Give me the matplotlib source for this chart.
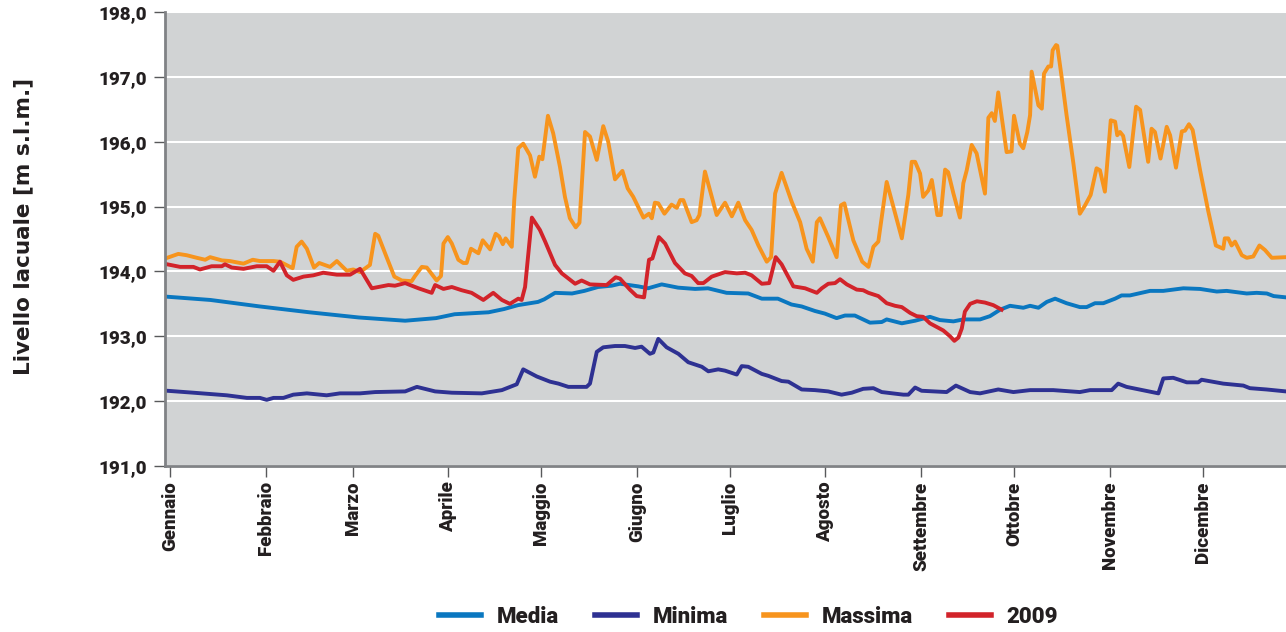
import matplotlib
matplotlib.use('Agg')
import matplotlib.pyplot as plt
from matplotlib.ticker import FuncFormatter

plt.rcParams['font.family'] = ['Roboto', 'DejaVu Sans']

# Day of year positions and lake levels
media_day = [0, 14, 30, 46, 62, 77, 87, 93, 104, 109, 113.5, 120, 122, 125.5, 131, 135, 139.4,
             143.8, 146.5, 152.4, 155.6, 160, 165.3, 170.8, 175, 181, 188, 192.4, 197.6, 202,
             205.3, 209.6, 212.8, 216.6, 219.3, 222.5, 227.4, 231.2, 232.8, 237.7, 242, 246.8,
             250, 254.4, 257.6, 263, 266.2, 269.5, 272.7, 277, 279.2, 281.9, 284.6, 287.3, 291,
             295.3, 297.5, 300.2, 302.9, 306.7, 308.8, 311.5, 318, 322.3, 328.8, 334.2, 339.6,
             342.8, 349.3, 352.5, 355.8, 358, 362]
media_val = [193.61, 193.56, 193.46, 193.37, 193.29, 193.24, 193.28, 193.34, 193.37, 193.42,
             193.48, 193.53, 193.57, 193.67, 193.66, 193.70, 193.76, 193.78, 193.81, 193.77,
             193.74, 193.80, 193.75, 193.73, 193.74, 193.67, 193.66, 193.58, 193.58, 193.49,
             193.46, 193.39, 193.35, 193.28, 193.32, 193.32, 193.21, 193.22, 193.26, 193.20,
             193.24, 193.30, 193.25, 193.23, 193.26, 193.26, 193.31, 193.41, 193.47, 193.44,
             193.47, 193.44, 193.53, 193.58, 193.51, 193.45, 193.45, 193.51, 193.51, 193.58,
             193.63, 193.63, 193.70, 193.70, 193.74, 193.73, 193.69, 193.70, 193.66, 193.67,
             193.66, 193.62, 193.60]

minima_day = [0, 8.5, 19.3, 25.8, 30, 32.2, 34.4, 37.6, 40.8, 45.2, 51.6, 55.9, 62.4, 67.3, 77,
              80.8, 86.7, 92.1, 101.8, 108.3, 113.1, 115.2, 119.6, 123.9, 126.6, 129.8, 135.7,
              136.8, 139, 141.1, 144.9, 148.1, 151.4, 153.5, 156.2, 157.3, 158.9, 161.6, 165.4,
              168.6, 173, 175.1, 178.3, 180.5, 184.3, 185.9, 188, 192.4, 194.5, 198.8, 201,
              205.3, 209.6, 213.9, 218.2, 221.5, 225.2, 228.5, 231.2, 238.2, 239.8, 242, 244.1,
              252.2, 255.2, 259.8, 263, 268.9, 273.8, 279.2, 286.7, 295.3, 298.6, 305.6, 307.7,
              310.4, 320.7, 322.3, 325.5, 329.9, 333.6, 334.7, 341.7, 348.2, 350.3, 355.7, 362]
minima_val = [192.16, 192.13, 192.09, 192.05, 192.05, 192.02, 192.05, 192.05, 192.10, 192.12,
              192.09, 192.12, 192.12, 192.14, 192.15, 192.22, 192.15, 192.13, 192.12, 192.17,
              192.26, 192.49, 192.38, 192.30, 192.27, 192.22, 192.22, 192.27, 192.76, 192.83,
              192.85, 192.85, 192.82, 192.84, 192.73, 192.75, 192.96, 192.83, 192.73, 192.60,
              192.53, 192.46, 192.49, 192.47, 192.41, 192.54, 192.53, 192.42, 192.39, 192.31,
              192.30, 192.18, 192.17, 192.15, 192.10, 192.13, 192.19, 192.20, 192.14, 192.10,
              192.10, 192.21, 192.16, 192.14, 192.24, 192.14, 192.12, 192.18, 192.14, 192.17,
              192.17, 192.14, 192.17, 192.17, 192.27, 192.22, 192.12, 192.35, 192.36, 192.29,
              192.29, 192.33, 192.27, 192.24, 192.20, 192.18, 192.15]

massima_day = [0, 3.6, 6.3, 9.6, 12.3, 13.9, 17.7, 20.3, 24.7, 27.7, 30, 34.4, 36.5, 40.6, 41.9,
               43.5, 45.2, 47.5, 49.2, 52.7, 54.9, 58.1, 60.2, 62.4, 65.6, 67.3, 68.3, 71, 73.5,
               75.9, 79.1, 80.2, 82.4, 84, 87.2, 88.6, 89.4, 90.8, 92.1, 94.2, 95.8, 96.9, 98.3,
               100.7, 102.1, 104.5, 106.3, 107.4, 108.6, 109.5, 111.5, 112.3, 113.6, 115.2,
               117.4, 119, 120.4, 121.4, 123.2, 124.9, 127.1, 128.7, 130.3, 132.2, 133.4, 135.2,
               136.8, 139, 141.1, 142.7, 144.9, 147.3, 149, 150.8, 154.1, 155.9, 156.8, 157.8,
               158.9, 160.9, 163.2, 164.9, 166, 167, 169.7, 171.3, 172.2, 174, 177.8, 180.5,
               182.7, 184.8, 187, 189.1, 191.3, 194, 195.4, 196.7, 198.8, 202.1, 204.8, 206.9,
               208.9, 210.2, 211.2, 213.9, 216.6, 218, 219.1, 222, 224.9, 226.9, 228.5, 230.1,
               232.8, 237.7, 239.8, 240.9, 242, 243.6, 244.6, 246.3, 247.4, 249.2, 250.3, 251.7,
               252.7, 254.4, 256.5, 257.6, 258.7, 260.3, 261.9, 264.6, 265.7, 266.8, 267.8,
               268.9, 271.6, 273.2, 274, 275.9, 277, 278.3, 279.2, 279.7, 281.9, 283, 283.7,
               285.1, 286, 286.5, 287.6, 288, 289.4, 291, 293.2, 295.3, 297, 298.8, 300.7,
               301.8, 303.4, 305.3, 306.7, 307.4, 308.3, 309.3, 311.3, 313.5, 314.8, 317.4,
               318.5, 319.6, 321.4, 323.4, 324.5, 326.4, 328.3, 329.3, 330.6, 331.8, 334.2,
               336.8, 339.3, 341.7, 342.2, 343.3, 344.4, 345.5, 347.7, 349.3, 351.4, 353.4,
               355.2, 357.4, 362]
massima_val = [194.21, 194.27, 194.25, 194.21, 194.18, 194.22, 194.17, 194.16, 194.12, 194.18,
               194.16, 194.16, 194.15, 194.05, 194.38, 194.46, 194.35, 194.06, 194.13, 194.07,
               194.16, 194.01, 194.03, 193.99, 194.10, 194.58, 194.55, 194.22, 193.92, 193.86,
               193.85, 193.93, 194.07, 194.06, 193.86, 193.93, 194.43, 194.53, 194.43, 194.18,
               194.13, 194.13, 194.35, 194.28, 194.48, 194.34, 194.58, 194.54, 194.42, 194.51,
               194.38, 195.10, 195.90, 195.97, 195.79, 195.46, 195.77, 195.73, 196.40, 196.13,
               195.61, 195.15, 194.82, 194.68, 194.75, 196.15, 196.08, 195.72, 196.24, 196.00,
               195.42, 195.55, 195.28, 195.15, 194.83, 194.89, 194.82, 195.06, 195.05, 194.89,
               195.03, 194.98, 195.10, 195.10, 194.76, 194.79, 194.87, 195.54, 194.87, 195.06,
               194.85, 195.06, 194.79, 194.64, 194.40, 194.15, 194.22, 195.20, 195.52, 195.07,
               194.76, 194.35, 194.15, 194.76, 194.82, 194.53, 194.22, 195.02, 195.05, 194.48,
               194.15, 194.07, 194.38, 194.46, 195.38, 194.51, 195.18, 195.69, 195.69, 195.51,
               195.15, 195.25, 195.41, 194.87, 194.87, 195.57, 195.53, 195.20, 194.83, 195.36,
               195.56, 195.95, 195.82, 195.20, 196.37, 196.44, 196.32, 196.76, 195.84, 195.85,
               196.40, 195.97, 195.90, 196.15, 196.41, 197.08, 196.56, 196.51, 197.05, 197.16,
               197.16, 197.41, 197.49, 197.48, 197.00, 196.41, 195.67, 194.89, 195.02, 195.18,
               195.59, 195.56, 195.23, 196.33, 196.31, 196.10, 196.15, 196.09, 195.61, 196.54,
               196.49, 195.69, 196.20, 196.15, 195.74, 196.23, 196.10, 195.60, 196.16, 196.17,
               196.27, 196.18, 195.56, 194.94, 194.40, 194.35, 194.51, 194.51, 194.40, 194.46,
               194.25, 194.21, 194.23, 194.40, 194.33, 194.21, 194.22]

y2009_day = [0, 4.2, 8.5, 10.6, 14.4, 17.7, 18.7, 20.9, 24.7, 29, 32.2, 34.4, 36.5, 38.7, 40.8,
             44.1, 47.3, 50.5, 54.9, 59.2, 62.4, 66.2, 71.6, 73.7, 77, 81.3, 85.6, 86.7, 89.4,
             92.1, 95.3, 98.5, 102.3, 105.5, 108.3, 110.9, 113.6, 114.7, 115.8, 118, 120.6,
             122.3, 125.5, 127.7, 132, 134.1, 136.8, 142.2, 145.1, 146.5, 149.7, 151.9, 154.3,
             155.9, 157, 159.1, 161.1, 164.3, 167.5, 169.7, 171.8, 173.5, 176.2, 180.5, 184.3,
             187, 189.1, 192.4, 194.8, 196.9, 198.8, 202.6, 206.4, 210.2, 211.8, 213.9, 216.1,
             217.7, 219.9, 223.1, 225.2, 226.9, 230.1, 232.8, 235.5, 237.7, 240.4, 242.5, 244.6,
             246.8, 251.1, 253.3, 254.7, 256, 257.1, 258.1, 259.8, 262, 264.6, 267.3, 270]
y2009_val = [194.11, 194.07, 194.07, 194.03, 194.08, 194.08, 194.11, 194.06, 194.04, 194.08,
             194.08, 194.01, 194.15, 193.94, 193.87, 193.92, 193.94, 193.98, 193.95, 193.95,
             194.04, 193.74, 193.79, 193.78, 193.82, 193.74, 193.67, 193.79, 193.73, 193.76,
             193.71, 193.67, 193.56, 193.67, 193.56, 193.50, 193.58, 193.56, 193.76, 194.83,
             194.64, 194.46, 194.10, 193.97, 193.81, 193.86, 193.80, 193.79, 193.91, 193.89,
             193.72, 193.62, 193.60, 194.18, 194.20, 194.53, 194.43, 194.13, 193.97, 193.93,
             193.82, 193.82, 193.92, 193.99, 193.97, 193.98, 193.94, 193.81, 193.82, 194.22,
             194.11, 193.77, 193.74, 193.67, 193.74, 193.81, 193.82, 193.88, 193.80, 193.72,
             193.71, 193.67, 193.62, 193.51, 193.47, 193.45, 193.36, 193.31, 193.30, 193.20,
             193.09, 193.00, 192.93, 192.98, 193.12, 193.38, 193.50, 193.54, 193.52, 193.48,
             193.41]

month_days = [1, 32, 60, 91, 121, 152, 182, 213, 244, 274, 305, 335]
month_labels = ['Gennaio', 'Febbraio', 'Marzo', 'Aprile', 'Maggio', 'Giugno', 'Luglio',
                'Agosto', 'Settembre', 'Ottobre', 'Novembre', 'Dicembre']
y_ticks = [191, 192, 193, 194, 195, 196, 197, 198]

fig = plt.figure(figsize=(12.86, 6.32), dpi=100)
ax = fig.add_axes([165 / 1286, 1 - 466 / 632, 1 - 165 / 1286, (466 - 12) / 632])
ax.set_facecolor('#d1d3d4')

lw = 2.8
ax.plot(media_day, media_val, color='#0a77c0', lw=lw, label='Media', solid_joinstyle='round')
ax.plot(minima_day, minima_val, color='#2e3192', lw=lw, label='Minima', solid_joinstyle='round')
ax.plot(massima_day, massima_val, color='#f7941d', lw=lw, label='Massima', solid_joinstyle='round')
ax.plot(y2009_day, y2009_val, color='#d2232a', lw=lw, label='2009', solid_joinstyle='round')

ax.set_xlim(-0.7, 362)
ax.set_ylim(191, 198)
ax.set_yticks(y_ticks)
ax.yaxis.set_major_formatter(FuncFormatter(lambda v, p: f"{v:.1f}".replace('.', ',')))
ax.set_xticks(month_days)
ax.set_xticklabels(month_labels, rotation=90, va='top', ha='center')

ax.grid(axis='y', color='white', lw=1.5)
ax.set_axisbelow(True)
for s in ['top', 'right']:
    ax.spines[s].set_visible(False)
for s in ['left', 'bottom']:
    ax.spines[s].set_color('#808285')
    ax.spines[s].set_linewidth(2)

ax.tick_params(axis='y', direction='out', length=8, width=1, color='#58595b',
               labelsize=13.5, pad=5)
ax.tick_params(axis='x', direction='out', length=8, width=1, color='#58595b',
               labelsize=13.5, pad=3)
for t in ax.get_xticklabels() + ax.get_yticklabels():
    t.set_fontweight('heavy')
    t.set_color('#231f20')

fig.text(0.018, 0.642, 'Livello lacuale [m s.l.m.]', rotation=90, ha='center', va='center',
         fontsize=15.5, fontweight='bold', color='#231f20', family='DejaVu Sans')

leg = fig.legend(loc='center', bbox_to_anchor=(0.582, 0.024), ncol=4, frameon=False,
                 prop={'size': 16, 'weight': 'heavy'}, handlelength=1.9,
                 handletextpad=0.72, columnspacing=1.6)
for line in leg.get_lines():
    line.set_linewidth(4)
for t in leg.get_texts():
    t.set_color('#231f20')

plt.savefig('out.png', dpi=100)
plt.close()
